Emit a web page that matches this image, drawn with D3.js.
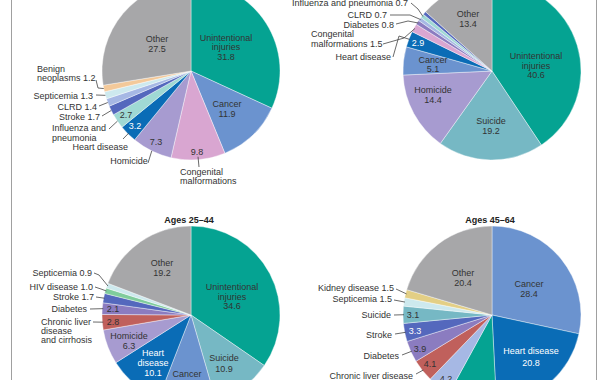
<!DOCTYPE html>
<html>
<head>
<meta charset="utf-8">
<script src="https://cdn.jsdelivr.net/npm/d3@7"></script>
<style>
  html, body { margin: 0; padding: 0; background: #fff; }
  svg { display: block; }
  text { font-family: "Liberation Sans", Arial, sans-serif; font-size: 9px; fill: #333; }
</style>
</head>
<body>
<script>
// ---------- DATA ----------
const causesA = ["Unintentional injuries","Cancer","Congenital malformations","Homicide","Heart disease","Influenza and pneumonia","Stroke","CLRD","Septicemia","Benign neoplasms","Other"];
const valuesA = [31.8, 11.9, 9.8, 7.3, 3.2, 2.7, 1.7, 1.4, 1.3, 1.2, 27.5];

const causesB = ["Unintentional injuries","Suicide","Homicide","Cancer","Heart disease","Congenital malformations","Diabetes","CLRD","Influenza and pneumonia","Stroke","Other"];
const valuesB = [40.6, 19.2, 14.4, 5.1, 2.9, 1.5, 0.8, 0.7, 0.7, 0.6, 13.4];

const causesC = ["Unintentional injuries","Suicide","Cancer","Heart disease","Homicide","Chronic liver disease","Diabetes","Stroke","HIV disease","Septicemia","Other"];
const valuesC = [34.6, 10.9, 10.4, 10.1, 6.3, 2.8, 2.1, 1.7, 1.0, 0.9, 19.2];

const causesD = ["Cancer","Heart disease","Unintentional injuries","CLRD","Chronic liver disease","Diabetes","Stroke","Suicide","Septicemia","Kidney disease","Other"];
const valuesD = [28.4, 20.8, 8.8, 4.2, 4.1, 3.9, 3.3, 3.1, 1.5, 1.5, 20.4];

const panelTitles = ["", "", "Ages 25\u201344", "Ages 45\u201364"];

const colorCauses = ["Unintentional injuries","Cancer","Heart disease","Other","Congenital malformations","Homicide","Influenza and pneumonia","Stroke","CLRD","Septicemia","Benign neoplasms","Suicide","Diabetes","Chronic liver disease","HIV disease","Kidney disease"];
const colorValues = ["#05a392","#6b93cf","#0a6cb6","#a7a7a9","#d9a6d1","#a79bd0","#9fd9d4","#5468bd","#a6b8e4","#cde9ee","#f3c99a","#76b8c4","#8b7cc0","#c0605c","#7fcc9c","#e3cf85"];

// ---------- LAYOUT (label placement relative to each pie centre) ----------
const labelsA = [
  {cause:"Other", lines:["Other","{v}"], x:-34, y:-32, lh:9.5},
  {cause:"Unintentional injuries", lines:["Unintentional","injuries","{v}"], x:35, y:-33, lh:9.2},
  {cause:"Cancer", lines:["Cancer","{v}"], x:36, y:33, lh:10},
  {cause:"Congenital malformations", lines:["{v}"], x:6, y:81},
  {cause:"Congenital malformations", lines:["Congenital","malformations"], x:-11, y:101, lh:9.2, anchor:"start", leader:[[8,96]], R:86},
  {cause:"Homicide", lines:["{v}"], x:-35, y:71},
  {cause:"Homicide", lines:["Homicide"], x:-62, y:90, leader:[[-43,92]], R:89},
  {cause:"Heart disease", lines:["{v}"], x:-56, y:55, fill:"#fff"},
  {cause:"Heart disease", lines:["Heart disease"], x:-63, y:76, anchor:"end", leader:[[-68,68]], R:88},
  {cause:"Influenza and pneumonia", lines:["{v}"], x:-65, y:44},
  {cause:"Influenza and pneumonia", lines:["Influenza and","pneumonia"], x:-139, y:57, lh:9.5, anchor:"start", leader:[[-82,58]], R:89},
  {cause:"Stroke", lines:["Stroke {v}"], x:-91, y:46, anchor:"end", leader:[[-89,45]], R:89},
  {cause:"CLRD", lines:["CLRD {v}"], x:-94, y:36, anchor:"end", leader:[[-92,35]], R:89},
  {cause:"Septicemia", lines:["Septicemia {v}"], x:-98, y:25, anchor:"end", leader:[[-95,24]], R:89},
  {cause:"Benign neoplasms", lines:["Benign","neoplasms {v}"], x:-154, y:-2, lh:9.2, anchor:"start", leader:[[-95,9],[-93,17]], R:89}
];
const labelsB = [
  {cause:"Other", lines:["Other","{v}"], x:-24, y:-57, lh:10},
  {cause:"Unintentional injuries", lines:["Unintentional","injuries","{v}"], x:44, y:-15, lh:9.5},
  {cause:"Suicide", lines:["Suicide","{v}"], x:-1, y:50, lh:9.5},
  {cause:"Homicide", lines:["Homicide","{v}"], x:-59, y:19, lh:10},
  {cause:"Cancer", lines:["Cancer","{v}"], x:-59, y:-11, lh:9},
  {cause:"Heart disease", lines:["{v}"], x:-74, y:-28, fill:"#fff"},
  {cause:"Heart disease", lines:["Heart disease"], x:-101, y:-14, anchor:"end", leader:[[-99,-14],[-93,-35]], R:88},
  {cause:"Congenital malformations", lines:["Congenital","malformations {v}"], x:-181, y:-37, lh:10, anchor:"start", leader:[[-109,-27],[-88,-33]], R:88},
  {cause:"Diabetes", lines:["Diabetes {v}"], x:-98, y:-46, anchor:"end", leader:[[-96,-47],[-84,-50]], R:88},
  {cause:"CLRD", lines:["CLRD {v}"], x:-105, y:-56, anchor:"end", leader:[[-102,-56],[-82,-56]], R:88},
  {cause:"Influenza and pneumonia", lines:["Influenza and pneumonia {v}"], x:-84, y:-68, anchor:"end", leader:[[-81,-68],[-74,-62]], R:88}
];
const labelsC = [
  {cause:"Other", lines:["Other","{v}"], x:-29, y:-52, lh:10},
  {cause:"Unintentional injuries", lines:["Unintentional","injuries","{v}"], x:41, y:-28, lh:9.5},
  {cause:"Suicide", lines:["Suicide","{v}"], x:33, y:43, lh:10.5},
  {cause:"Cancer", lines:["Cancer"], x:-4, y:59},
  {cause:"Heart disease", lines:["Heart","disease","{v}"], x:-38, y:38, lh:10, fill:"#fff"},
  {cause:"Homicide", lines:["Homicide","{v}"], x:-62, y:21, lh:10},
  {cause:"Chronic liver disease", lines:["{v}"], x:-78, y:7},
  {cause:"Chronic liver disease", lines:["Chronic liver","disease","and cirrhosis"], x:-150, y:7, lh:9, anchor:"start", leader:[[-98,7]], R:88},
  {cause:"Diabetes", lines:["{v}"], x:-78, y:-6},
  {cause:"Diabetes", lines:["Diabetes"], x:-104, y:-6, anchor:"end", leader:[[-101,-6]], R:88},
  {cause:"Stroke", lines:["Stroke {v}"], x:-97, y:-18, anchor:"end", leader:[[-95,-18]], R:88},
  {cause:"HIV disease", lines:["HIV disease {v}"], x:-98, y:-28, anchor:"end", leader:[[-96,-28],[-90,-26]], R:88},
  {cause:"Septicemia", lines:["Septicemia {v}"], x:-99, y:-42, anchor:"end", leader:[[-97,-42],[-92,-40]], R:88}
];
const labelsD = [
  {cause:"Other", lines:["Other","{v}"], x:-29, y:-42, lh:10},
  {cause:"Cancer", lines:["Cancer","{v}"], x:37, y:-31, lh:10},
  {cause:"Heart disease", lines:["Heart disease","{v}"], x:39, y:36, lh:12, fill:"#fff"},
  {cause:"Kidney disease", lines:["Kidney disease {v}"], x:-98, y:-27, anchor:"end", leader:[[-96,-26]], R:88},
  {cause:"Septicemia", lines:["Septicemia {v}"], x:-100, y:-16, anchor:"end", leader:[[-98,-15]], R:88},
  {cause:"Suicide", lines:["{v}"], x:-79, y:0},
  {cause:"Suicide", lines:["Suicide"], x:-101, y:0, anchor:"end", leader:[[-98,0]], R:88},
  {cause:"Stroke", lines:["{v}"], x:-77, y:16, fill:"#fff"},
  {cause:"Stroke", lines:["Stroke"], x:-100, y:20, anchor:"end", leader:[[-97,19]], R:88},
  {cause:"Diabetes", lines:["{v}"], x:-72, y:34},
  {cause:"Diabetes", lines:["Diabetes"], x:-93, y:41, anchor:"end", leader:[[-90,40]], R:88},
  {cause:"Chronic liver disease", lines:["{v}"], x:-62, y:49},
  {cause:"Chronic liver disease", lines:["Chronic liver disease"], x:-79, y:61, anchor:"end", leader:[[-76,59]], R:88},
  {cause:"CLRD", lines:["{v}"], x:-46, y:64}
];

const panels = [
  {cx:191, cy:71, causes:causesA, values:valuesA, labels:labelsA, title:panelTitles[0]},
  {cx:492, cy:71, causes:causesB, values:valuesB, labels:labelsB, title:panelTitles[1]},
  {cx:191, cy:315, causes:causesC, values:valuesC, labels:labelsC, title:panelTitles[2]},
  {cx:492, cy:315, causes:causesD, values:valuesD, labels:labelsD, title:panelTitles[3]}
];

// ---------- DRAW ----------
const W = 600, H = 380, R = 89;
const color = d3.scaleOrdinal().domain(colorCauses).range(colorValues);
const fmt = d3.format(".1f");

const svg = d3.select("body").append("svg").attr("width", W).attr("height", H);
svg.append("rect").attr("width", W).attr("height", H).attr("fill", "#fff");

// frame lines
svg.append("line").attr("x1", 11.5).attr("x2", 11.5).attr("y1", 0).attr("y2", H).attr("stroke", "#a0a0a0").attr("stroke-width", 1);
svg.append("line").attr("x1", 596.5).attr("x2", 596.5).attr("y1", 0).attr("y2", H).attr("stroke", "#a0a0a0").attr("stroke-width", 1);

const pie = d3.pie().sort(null).value(d => d.value);
const arc = d3.arc().innerRadius(0).outerRadius(R);
const line = d3.line();

panels.forEach(p => {
  const g = svg.append("g").attr("transform", `translate(${p.cx},${p.cy})`);
  const arcs = pie(p.causes.map((c, i) => ({cause: c, value: p.values[i]})));
  g.selectAll("path.slice").data(arcs).join("path")
    .attr("class", "slice")
    .attr("d", arc)
    .attr("fill", d => color(d.data.cause))
    .attr("stroke", "#fff")
    .attr("stroke-width", 0.4);

  if (p.title) {
    g.append("text").attr("x", -2).attr("y", -R - 6).attr("dy", "0.35em")
      .attr("text-anchor", "middle").style("font-weight", "bold").style("fill", "#222")
      .text(p.title);
  }

  const byCause = new Map(arcs.map(a => [a.data.cause, a]));
  p.labels.forEach(l => {
    const a = byCause.get(l.cause);
    const v = fmt(a.data.value);
    if (l.leader) {
      const mid = (a.startAngle + a.endAngle) / 2;
      const end = [l.R * Math.sin(mid), -l.R * Math.cos(mid)];
      g.append("path").attr("d", line(l.leader.concat([end])))
        .attr("fill", "none").attr("stroke", "#444").attr("stroke-width", 0.8);
    }
    const t = g.append("text")
      .attr("text-anchor", l.anchor || "middle")
      .style("fill", l.fill || "#333");
    l.lines.forEach((s, i) => {
      t.append("tspan").attr("x", l.x).attr("y", l.y + i * (l.lh || 9.5)).attr("dy", "0.35em")
        .text(s.replace("{v}", v));
    });
  });
});
</script>
</body>
</html>
